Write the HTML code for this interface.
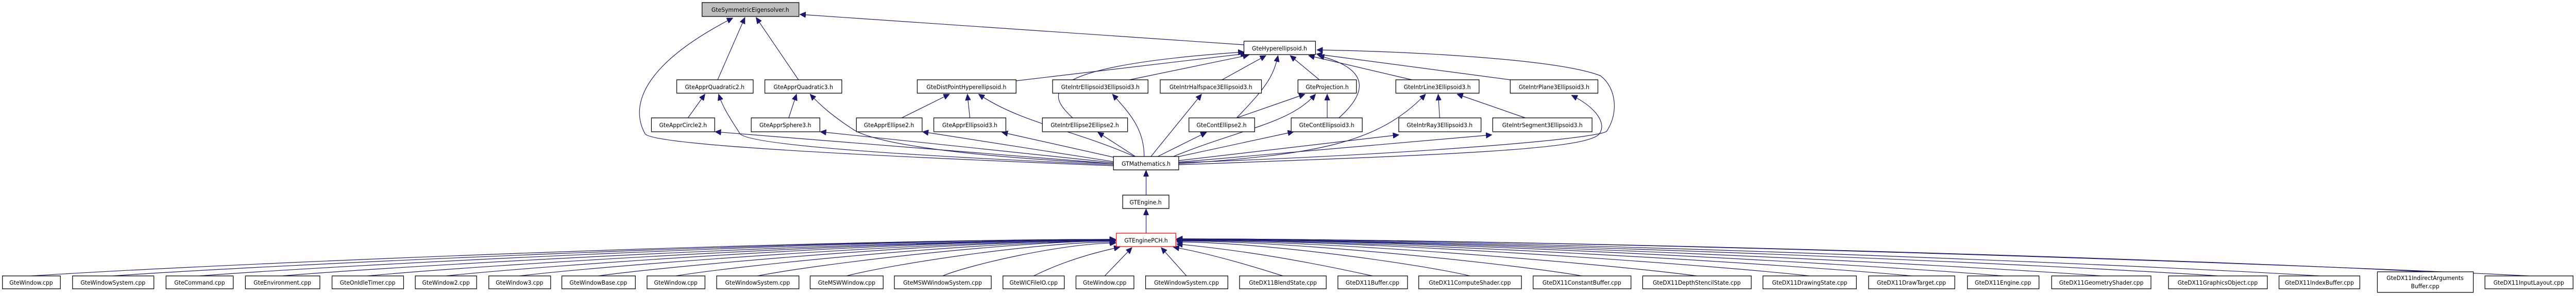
<!DOCTYPE html>
<html><head><meta charset="utf-8"><style>
html,body{margin:0;padding:0;background:#fff;width:100%;height:100%;overflow:hidden;}
svg{display:block;position:absolute;left:0;top:0}
text{font-family:"DejaVu Sans","Liberation Sans",sans-serif;font-size:11.5px;fill:#000;text-anchor:middle}
.b{fill:#fff;stroke:#000;stroke-width:1.3}
.e{fill:none;stroke:#191970;stroke-width:1.2;marker-end:url(#a)}
</style></head><body>
<svg width="100%" height="100%" viewBox="0 0 5291 575" preserveAspectRatio="none" xmlns="http://www.w3.org/2000/svg">
<defs><marker id="a" markerUnits="userSpaceOnUse" markerWidth="13" markerHeight="11" refX="12" refY="5.5" orient="auto"><path d="M0,0 L12,5.5 L0,11 z" fill="#191970" stroke="#191970"/></marker></defs>

<path class="e" d="M1474,155 L1530,34"/>
<path class="e" d="M1640,155 L1553,34"/>
<path class="e" d="M2555,87 L1643,28"/>
<path class="e" d="M2287,322 C1700,300 1340,280 1325,260 C1290,200 1330,120 1505,35"/>
<path class="e" d="M1413,229 L1448,183"/>
<path class="e" d="M1620,229 L1636,183"/>
<path class="e" d="M1852,229 L1950,183"/>
<path class="e" d="M1992,229 L1987,183"/>
<path class="e" d="M2540,229 L2680,183"/>
<path class="e" d="M2726,229 L2726,183"/>
<path class="e" d="M2957,229 L2954,183"/>
<path class="e" d="M3133,229 L2993,183"/>
<path class="e" d="M2087,157 L2560,104"/>
<path class="e" d="M2203,229 C2160,190 2100,130 2555,101"/>
<path class="e" d="M2320,155 L2565,107"/>
<path class="e" d="M2510,155 L2600,108"/>
<path class="e" d="M2540,229 C2600,170 2615,150 2625,108"/>
<path class="e" d="M2710,155 L2650,108"/>
<path class="e" d="M2750,229 C2820,170 2800,130 2708,108"/>
<path class="e" d="M2900,155 L2688,108"/>
<path class="e" d="M3102,155 L2704,105"/>
<path class="e" d="M2421,316 C2900,300 3280,270 3300,255 C3325,220 3320,170 3287,147 C3200,115 2900,100 2705,97"/>
<path class="e" d="M2287,318 L1469,256"/>
<path class="e" d="M2287,316 L1685,256"/>
<path class="e" d="M2287,314 L1895,256"/>
<path class="e" d="M2290,306 L2058,257"/>
<path class="e" d="M2287,320 C1800,300 1540,280 1520,260 C1500,230 1485,210 1476,183"/>
<path class="e" d="M2287,318 C1900,300 1780,270 1750,250 C1710,225 1685,205 1664,183"/>
<path class="e" d="M2330,304 C2200,250 2100,240 2010,183"/>
<path class="e" d="M2332,304 L2255,257"/>
<path class="e" d="M2350,304 C2350,250 2320,220 2285,183"/>
<path class="e" d="M2364,304 L2468,183"/>
<path class="e" d="M2378,304 L2478,257"/>
<path class="e" d="M2417,305 L2657,256"/>
<path class="e" d="M2410,304 C2550,250 2650,240 2702,183"/>
<path class="e" d="M2421,318 C2700,300 2830,280 2928,183"/>
<path class="e" d="M2421,312 L2873,262"/>
<path class="e" d="M2421,315 L3064,262"/>
<path class="e" d="M2421,320 C3000,300 3260,290 3285,260 C3300,240 3280,210 3228,185"/>
<path class="e" d="M2354,379 L2354,331"/>
<path class="e" d="M2354,453 L2354,406"/>
<path class="e" d="M64,536 C398,515 1622,465 2291,465"/>
<path class="e" d="M232,536 C541,515 1673,465 2291,465"/>
<path class="e" d="M410,536 C692,515 1726,465 2291,465"/>
<path class="e" d="M580,536 C837,515 1777,466 2291,466"/>
<path class="e" d="M755,536 C985,515 1830,466 2291,466"/>
<path class="e" d="M916,536 C1122,515 1878,466 2291,466"/>
<path class="e" d="M1067,536 C1250,515 1923,467 2291,467"/>
<path class="e" d="M1229,536 C1388,515 1972,467 2291,467"/>
<path class="e" d="M1388,536 C1523,515 2019,468 2291,468"/>
<path class="e" d="M1556,536 C1666,515 2070,468 2291,468"/>
<path class="e" d="M1739,536 C1822,515 2125,470 2291,470"/>
<path class="e" d="M1936,536 C1989,515 2184,472 2292,472"/>
<path class="e" d="M2123,536 Q2200,500 2300,480"/>
<path class="e" d="M2269,536 L2325,481"/>
<path class="e" d="M2437,536 L2385,481"/>
<path class="e" d="M2635,536 Q2500,495 2410,480"/>
<path class="e" d="M2819,536 Q2600,490 2417,474"/>
<path class="e" d="M3019,536 C2929,515 2598,470 2417,470"/>
<path class="e" d="M3249,536 C3124,515 2667,468 2417,468"/>
<path class="e" d="M3485,536 C3325,515 2737,467 2417,467"/>
<path class="e" d="M3717,536 C3522,515 2807,466 2417,466"/>
<path class="e" d="M3926,536 C3700,515 2870,466 2417,466"/>
<path class="e" d="M4114,536 C3859,515 2926,465 2417,465"/>
<path class="e" d="M4316,536 C4031,515 2987,465 2417,465"/>
<path class="e" d="M4555,536 C4234,515 3058,465 2417,465"/>
<path class="e" d="M4764,536 C4412,515 3121,464 2417,464"/>
<path class="e" d="M4981,528 C4596,507 3186,464 2417,464"/>
<path class="e" d="M5194,536 C4777,515 3250,464 2417,464"/>

<rect x="1442" y="5" width="199" height="27" fill="#bfbfbf" stroke="#000" stroke-width="1.3"/><text x="1541" y="23">GteSymmetricEigensolver.h</text>
<rect class="b" x="2555" y="80" width="147" height="26"/><text x="2628" y="98">GteHyperellipsoid.h</text>
<rect class="b" x="1390" y="155" width="157" height="26"/><text x="1468" y="173">GteApprQuadratic2.h</text>
<rect class="b" x="1571" y="155" width="158" height="26"/><text x="1650" y="173">GteApprQuadratic3.h</text>
<rect class="b" x="1884" y="155" width="203" height="26"/><text x="1985" y="173">GteDistPointHyperellipsoid.h</text>
<rect class="b" x="2162" y="155" width="196" height="26"/><text x="2260" y="173">GteIntrEllipsoid3Ellipsoid3.h</text>
<rect class="b" x="2383" y="155" width="208" height="26"/><text x="2487" y="173">GteIntrHalfspace3Ellipsoid3.h</text>
<rect class="b" x="2666" y="155" width="120" height="26"/><text x="2726" y="173">GteProjection.h</text>
<rect class="b" x="2867" y="155" width="171" height="26"/><text x="2952" y="173">GteIntrLine3Ellipsoid3.h</text>
<rect class="b" x="3102" y="155" width="180" height="26"/><text x="3192" y="173">GteIntrPlane3Ellipsoid3.h</text>
<rect class="b" x="1338" y="229" width="130" height="27"/><text x="1403" y="247">GteApprCircle2.h</text>
<rect class="b" x="1543" y="229" width="141" height="27"/><text x="1613" y="247">GteApprSphere3.h</text>
<rect class="b" x="1759" y="229" width="135" height="27"/><text x="1826" y="247">GteApprEllipse2.h</text>
<rect class="b" x="1918" y="229" width="148" height="27"/><text x="1992" y="247">GteApprEllipsoid3.h</text>
<rect class="b" x="2141" y="229" width="175" height="27"/><text x="2228" y="247">GteIntrEllipse2Ellipse2.h</text>
<rect class="b" x="2442" y="229" width="135" height="27"/><text x="2509" y="247">GteContEllipse2.h</text>
<rect class="b" x="2652" y="229" width="146" height="27"/><text x="2725" y="247">GteContEllipsoid3.h</text>
<rect class="b" x="2873" y="229" width="169" height="27"/><text x="2957" y="247">GteIntrRay3Ellipsoid3.h</text>
<rect class="b" x="3066" y="229" width="204" height="27"/><text x="3168" y="247">GteIntrSegment3Ellipsoid3.h</text>
<rect class="b" x="2287" y="304" width="134" height="26"/><text x="2354" y="322">GTMathematics.h</text>
<rect class="b" x="2306" y="379" width="95" height="26"/><text x="2353" y="397">GTEngine.h</text>
<rect x="2293" y="453" width="122" height="26" fill="#fff" stroke="#ff0000" stroke-width="1.3"/><text x="2354" y="471">GTEnginePCH.h</text>

<rect class="b" x="5" y="536" width="119" height="25"/><text x="64" y="553">GteWindow.cpp</text>
<rect class="b" x="149" y="536" width="167" height="25"/><text x="232" y="553">GteWindowSystem.cpp</text>
<rect class="b" x="341" y="536" width="138" height="25"/><text x="410" y="553">GteCommand.cpp</text>
<rect class="b" x="504" y="536" width="153" height="25"/><text x="580" y="553">GteEnvironment.cpp</text>
<rect class="b" x="682" y="536" width="147" height="25"/><text x="755" y="553">GteOnIdleTimer.cpp</text>
<rect class="b" x="853" y="536" width="126" height="25"/><text x="916" y="553">GteWindow2.cpp</text>
<rect class="b" x="1004" y="536" width="127" height="25"/><text x="1067" y="553">GteWindow3.cpp</text>
<rect class="b" x="1154" y="536" width="151" height="25"/><text x="1229" y="553">GteWindowBase.cpp</text>
<rect class="b" x="1329" y="536" width="119" height="25"/><text x="1388" y="553">GteWindow.cpp</text>
<rect class="b" x="1472" y="536" width="169" height="25"/><text x="1556" y="553">GteWindowSystem.cpp</text>
<rect class="b" x="1664" y="536" width="150" height="25"/><text x="1739" y="553">GteMSWWindow.cpp</text>
<rect class="b" x="1837" y="536" width="199" height="25"/><text x="1936" y="553">GteMSWWindowSystem.cpp</text>
<rect class="b" x="2060" y="536" width="126" height="25"/><text x="2123" y="553">GteWICFileIO.cpp</text>
<rect class="b" x="2210" y="536" width="119" height="25"/><text x="2269" y="553">GteWindow.cpp</text>
<rect class="b" x="2353" y="536" width="169" height="25"/><text x="2437" y="553">GteWindowSystem.cpp</text>
<rect class="b" x="2546" y="536" width="178" height="25"/><text x="2635" y="553">GteDX11BlendState.cpp</text>
<rect class="b" x="2748" y="536" width="143" height="25"/><text x="2819" y="553">GteDX11Buffer.cpp</text>
<rect class="b" x="2914" y="536" width="211" height="25"/><text x="3019" y="553">GteDX11ComputeShader.cpp</text>
<rect class="b" x="3149" y="536" width="201" height="25"/><text x="3249" y="553">GteDX11ConstantBuffer.cpp</text>
<rect class="b" x="3374" y="536" width="223" height="25"/><text x="3485" y="553">GteDX11DepthStencilState.cpp</text>
<rect class="b" x="3621" y="536" width="192" height="25"/><text x="3717" y="553">GteDX11DrawingState.cpp</text>
<rect class="b" x="3838" y="536" width="177" height="25"/><text x="3926" y="553">GteDX11DrawTarget.cpp</text>
<rect class="b" x="4041" y="536" width="147" height="25"/><text x="4114" y="553">GteDX11Engine.cpp</text>
<rect class="b" x="4214" y="536" width="204" height="25"/><text x="4316" y="553">GteDX11GeometryShader.cpp</text>
<rect class="b" x="4454" y="536" width="203" height="25"/><text x="4555" y="553">GteDX11GraphicsObject.cpp</text>
<rect class="b" x="4681" y="536" width="166" height="25"/><text x="4764" y="553">GteDX11IndexBuffer.cpp</text>
<rect class="b" x="4883" y="528" width="197" height="40"/><text x="4981" y="544">GteDX11IndirectArguments</text><text x="4981" y="560">Buffer.cpp</text>
<rect class="b" x="5104" y="536" width="181" height="25"/><text x="5194" y="553">GteDX11InputLayout.cpp</text>
</svg>
</body></html>
